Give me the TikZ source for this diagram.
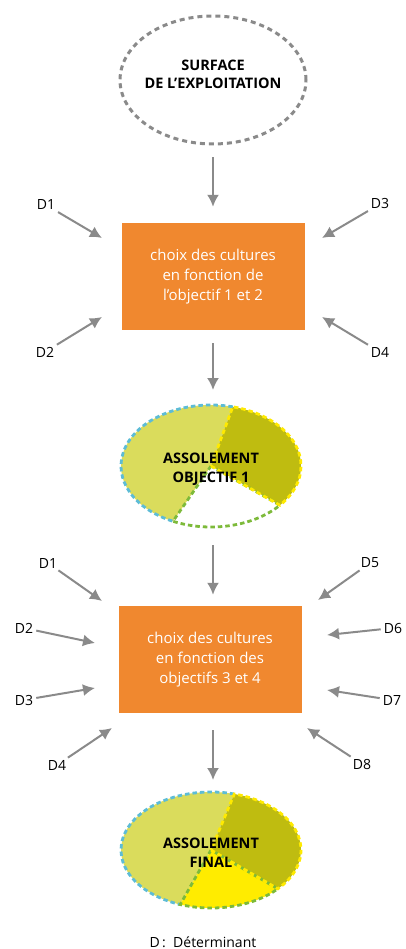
\documentclass[tikz,border=0pt]{standalone}
\usepackage{fontspec}
\setmainfont{Open Sans}
\usepackage{tikz}
\usetikzlibrary{arrows.meta,shapes.geometric,calc}

\definecolor{boxorange}{HTML}{F0882F}
\definecolor{arrowgray}{HTML}{8A8A8A}
\definecolor{pielight}{HTML}{DADC5C}
\definecolor{piedark}{HTML}{BFBC10}
\definecolor{pieyellow}{HTML}{FFEC00}
\definecolor{dashblue}{HTML}{5DBCD6}
\definecolor{dashyellow}{HTML}{FFEA00}
\definecolor{dashgreen}{HTML}{7DBA3A}

\begin{document}
\begin{tikzpicture}[x=1pt,y=1pt,
  flow/.style={draw=arrowgray,line width=2pt,-{Latex[length=12pt,width=12pt]}},
  detarrow/.style={draw=arrowgray,line width=2pt,-{Latex[length=12pt,width=12pt]},shorten <=2pt},
  choicebox/.style={rectangle,fill=boxorange,minimum width=183pt,minimum height=107pt,align=center,text=white,font=\fontsize{15}{20}\selectfont},
  det/.style={font=\fontsize{14}{16}\selectfont,inner sep=1pt},
  pietext/.style={align=center,font=\bfseries\fontsize{14.5}{19}\selectfont},
  piedash/.style={line width=2.8pt,dash pattern=on 4.5pt off 3pt}]
\useasboundingbox (0,0) rectangle (405,-949);

\node[ellipse,draw=arrowgray,line width=3pt,dash pattern=on 5pt off 4pt,minimum width=186pt,minimum height=128pt] (surf) at (213,-80) {};
\node[align=center,font=\bfseries\fontsize{14.5}{18}\selectfont] (surftext) at ([yshift=6pt]surf.center) {SURFACE\\DE L'EXPLOITATION};

\node[choicebox] (choix1) at (213,-276.5) {choix des cultures\\en fonction de\\l'objectif 1 et 2};

% first pie
\coordinate (c1) at (211,-466);
\fill[pielight] (c1) -- ($(c1)+(76:90pt and 61pt)$) arc[start angle=76,end angle=245,x radius=90pt,y radius=61pt] -- cycle;
\fill[piedark] (c1) -- ($(c1)+(-40:90pt and 61pt)$) arc[start angle=-40,end angle=76,x radius=90pt,y radius=61pt] -- cycle;
\draw[dashblue,piedash] ($(c1)+(76:90pt and 61pt)$) arc[start angle=76,end angle=245,x radius=90pt,y radius=61pt];
\draw[dashgreen,piedash] (c1) -- ($(c1)+(245:90pt and 61pt)$) arc[start angle=245,end angle=320,x radius=90pt,y radius=61pt] -- cycle;
\draw[dashyellow,piedash] (c1) -- ($(c1)+(-40:90pt and 61pt)$) arc[start angle=-40,end angle=76,x radius=90pt,y radius=61pt] -- cycle;
\node[pietext] (pie1) at ([yshift=-3.5pt]c1) {ASSOLEMENT\\OBJECTIF 1};

\node[choicebox] (choix2) at (210,-659.5) {choix des cultures\\en fonction des\\objectifs 3 et 4};

% final pie
\coordinate (c2) at (211,-850);
\fill[pielight] (c2) -- ($(c2)+(75:90pt and 58pt)$) arc[start angle=75,end angle=250,x radius=90pt,y radius=58pt] -- cycle;
\fill[piedark] (c2) -- ($(c2)+(-42:90pt and 58pt)$) arc[start angle=-42,end angle=75,x radius=90pt,y radius=58pt] -- cycle;
\fill[pieyellow] (c2) -- ($(c2)+(250:90pt and 58pt)$) arc[start angle=250,end angle=318,x radius=90pt,y radius=58pt] -- cycle;
\draw[dashblue,piedash] ($(c2)+(75:90pt and 58pt)$) arc[start angle=75,end angle=250,x radius=90pt,y radius=58pt];
\draw[dashgreen,piedash] (c2) -- ($(c2)+(250:90pt and 58pt)$) arc[start angle=250,end angle=318,x radius=90pt,y radius=58pt] -- cycle;
\draw[dashyellow,piedash] (c2) -- ($(c2)+(-42:90pt and 58pt)$) arc[start angle=-42,end angle=75,x radius=90pt,y radius=58pt] -- cycle;
\node[pietext] (pie2) at ([yshift=-3pt]c2) {ASSOLEMENT\\FINAL};

% main flow
\coordinate (pie1top) at (213,-405);
\coordinate (pie1bot) at (213,-527);
\coordinate (pie2top) at (213,-790);
\draw[flow,shorten <=12pt,shorten >=16pt] (surf.south) -- (choix1.north);
\draw[flow,shorten <=13pt,shorten >=15pt] (choix1.south) -- (pie1top);
\draw[flow,shorten <=18pt,shorten >=11pt] (pie1bot) -- (choix2.north -| pie1bot);
\draw[flow,shorten <=17pt,shorten >=10pt] (choix2.south -| pie1bot) -- (pie2top);

% determinants, first choice
\node[det] (a1) at (46,-205) {D1};
\node[det] (a2) at (45,-352) {D2};
\node[det] (a3) at (380,-204) {D3};
\node[det] (a4) at (380,-352) {D4};
\coordinate (ta1) at (102,-238);
\coordinate (ta2) at (102,-317);
\coordinate (ta3) at (322,-238);
\coordinate (ta4) at (322,-317);
\foreach \i in {1,...,4}
  \draw[detarrow] (a\i) -- (ta\i);

% determinants, second choice
\node[det] (b1) at (48,-563) {D1};
\node[det] (b2) at (24,-628) {D2};
\node[det] (b3) at (24,-700) {D3};
\node[det] (b4) at (57,-765) {D4};
\node[det] (b5) at (370,-563) {D5};
\node[det] (b6) at (393,-628) {D6};
\node[det] (b7) at (392,-700) {D7};
\node[det] (b8) at (362,-764) {D8};
\coordinate (tb1) at (102,-601);
\coordinate (tb2) at (95,-643);
\coordinate (tb3) at (95,-688);
\coordinate (tb4) at (112,-728);
\coordinate (tb5) at (318,-600);
\coordinate (tb6) at (327,-635);
\coordinate (tb7) at (327,-690);
\coordinate (tb8) at (307,-728);
\foreach \i in {1,...,8}
  \draw[detarrow] (b\i) -- (tb\i);

\node[font=\fontsize{14}{16}\selectfont] (legend) at (203,-942) {D\,:\ \ Déterminant};
\end{tikzpicture}
\end{document}
